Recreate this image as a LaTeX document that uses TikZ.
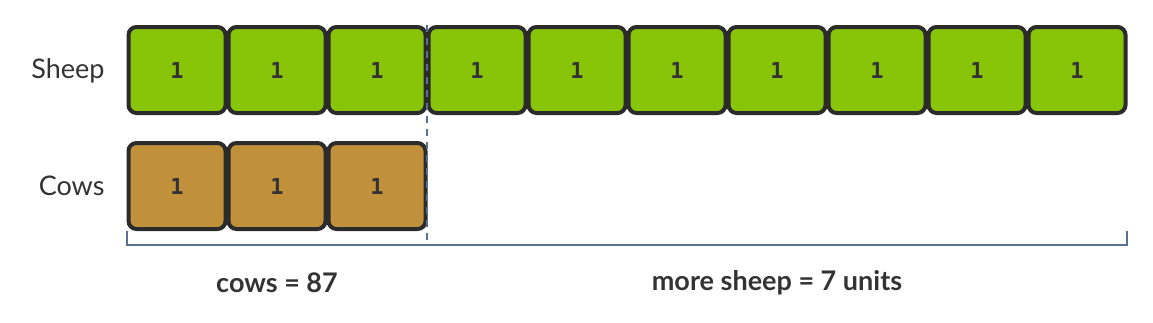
\documentclass[tikz,border=0pt]{standalone}
\usepackage{fontspec}
\setmainfont{Lato}
\setmonofont{DejaVu Sans Mono}
\usepackage{tikz}
\usetikzlibrary{positioning, calc}
\definecolor{sheepgreen}{HTML}{88C408}
\definecolor{cowbrown}{HTML}{C0913A}
\definecolor{edgegray}{HTML}{2B2B2B}
\definecolor{slate}{HTML}{5A7090}
\definecolor{inkgray}{HTML}{333333}

\begin{document}
\begin{tikzpicture}[x=1pt, y=-1pt,
  unitbox/.style={draw=edgegray, line width=4pt, rounded corners=8pt,
    minimum width=97pt, minimum height=86pt, inner sep=0pt,
    font=\ttfamily\bfseries\fontsize{22}{24}\selectfont, text=inkgray},
  rowlabel/.style={anchor=east, font=\fontsize{27}{30}\selectfont, text=inkgray},
  sumlabel/.style={font=\bfseries\fontsize{27}{30}\selectfont, text=inkgray},
  bracket/.style={draw=slate, line width=2.5pt}]
\useasboundingbox (0,0) rectangle (1153,322);

% Sheep
\node[rowlabel] (sheeplbl) at (108, 71) {Sheep};
\foreach \i in {1,...,10}
  \node[unitbox, fill=sheepgreen] (s\i) at ({77+100*\i}, 70) {1};

% Cows
\node[rowlabel] (cowslbl) at (108, 186) {Cows};
\foreach \i in {1,2,3}
  \node[unitbox, fill=cowbrown] (c\i) at ({77+100*\i}, 186) {1};

% Brackets
\coordinate (bl) at (127, 245);
\coordinate (bm) at (427, 245);
\coordinate (br) at (1127, 245);
\coordinate (dtop) at (427, 25);
\draw[bracket] (127, 231) -- (bl) -- (br) -- (1127, 231);
\draw[bracket, dash pattern=on 7pt off 6pt] (dtop) -- (bm);

% Totals
\node[sumlabel] (cowsum) at (277, 283) {cows = 87};
\node[sumlabel] (sheepsum) at (777, 283) {more sheep = 7 units};
\end{tikzpicture}
\end{document}
